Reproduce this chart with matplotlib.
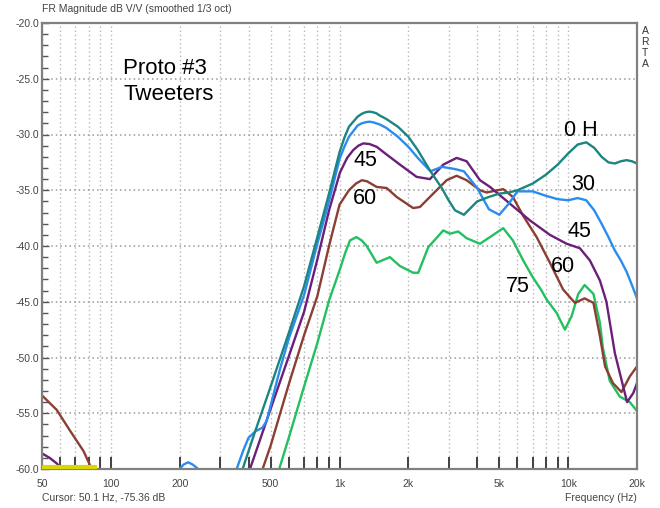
import matplotlib
matplotlib.use('Agg')
import matplotlib.pyplot as plt
from matplotlib.ticker import FixedLocator, NullFormatter, FixedFormatter

plt.rcParams['font.family'] = ['Liberation Sans', 'DejaVu Sans']

# ---------------- data ----------------
f_0h = [377, 420, 500, 600, 700, 800, 900, 1000, 1050, 1100, 1200, 1250, 1300, 1350, 1400,
        1450, 1500, 1600, 1800, 2000, 2200, 2500, 2800, 3000, 3200, 3500, 4000, 4500, 5000,
        5500, 6000, 7000, 8000, 9000, 10000, 11000, 12000, 13000, 14000, 15000, 16000,
        17000, 18000, 19000, 20000]
db_0h = [-60, -57.1, -52.6, -47.8, -43.6, -39.2, -35.3, -31.6, -30.3, -29.3, -28.4, -28.15,
         -28.0, -27.95, -28.0, -28.1, -28.3, -28.6, -29.3, -30.2, -31.4, -33.3, -34.8, -35.9,
         -36.8, -37.2, -36.0, -35.6, -35.3, -35.2, -35.0, -34.4, -33.6, -32.7, -31.7, -30.9,
         -30.7, -31.2, -32.0, -32.5, -32.6, -32.4, -32.3, -32.4, -32.6]

f_30 = [355, 380, 400, 430, 460, 480, 500, 550, 600, 700, 800, 900, 1000, 1050, 1100, 1200,
        1250, 1300, 1350, 1400, 1500, 1600, 1800, 2000, 2200, 2500, 2800, 3000, 3200, 3500,
        4000, 4500, 5000, 5500, 6000, 7000, 8000, 9000, 10000, 11000, 12000, 13000, 14000,
        15000, 16000, 17000, 18000, 19000, 20000]
db_30 = [-60, -58.3, -57.2, -56.6, -56.3, -55.7, -54.3, -51.0, -48.3, -44.4, -39.8, -36.0,
         -32.2, -31.1, -30.2, -29.2, -29.0, -28.9, -28.85, -28.9, -29.1, -29.4, -30.2, -31.1,
         -32.1, -33.3, -32.9, -33.0, -33.1, -33.3, -34.8, -36.7, -37.2, -36.2, -35.1, -35.1,
         -35.5, -35.8, -35.9, -35.7, -35.9, -36.8, -38.0, -39.2, -40.4, -41.3, -42.3, -43.5,
         -44.7]
f_30_low = [200, 208, 218, 228, 241]
db_30_low = [-60, -59.6, -59.4, -59.6, -60]

f_45 = [406, 500, 600, 700, 800, 900, 1005, 1080, 1148, 1210, 1271, 1350, 1453, 1608, 1838,
        2174, 2486, 2844, 3253, 3597, 4115, 4550, 5560, 6800, 8320, 9850, 11250, 12450,
        13770, 14700, 16000, 17400, 18100, 19250, 20000]
db_45 = [-60, -54.6, -49.9, -45.9, -41.2, -36.8, -33.4, -32.1, -31.4, -31.0, -30.8, -30.85,
         -31.1, -31.8, -32.7, -33.8, -34.0, -32.7, -32.1, -32.4, -34.1, -34.7, -36.2, -37.7,
         -39.0, -39.8, -40.2, -41.3, -43.1, -45.0, -49.6, -52.6, -54.0, -53.2, -52.3]
f_45_low = [50, 54, 58, 61]
db_45_low = [-58.6, -59.0, -59.5, -60]

f_60 = [461, 500, 600, 700, 800, 900, 1000, 1100, 1180, 1253, 1320, 1453, 1608, 1778, 2101,
        2248, 2570, 2942, 3253, 3597, 4115, 4400, 5200, 5730, 6360, 7280, 8320, 9500, 10700,
        11800, 12900, 13770, 14500, 15700, 17100, 18600, 20000]
db_60 = [-60, -57.9, -52.4, -48.0, -44.5, -40.0, -36.3, -35.0, -34.4, -34.1, -34.2, -34.7,
         -34.8, -35.6, -36.6, -36.5, -35.3, -34.1, -33.7, -34.1, -35.0, -35.2, -34.9, -35.6,
         -37.3, -39.2, -41.5, -43.9, -45.1, -44.7, -45.1, -48.1, -50.8, -52.3, -53.1, -51.7,
         -50.8]
f_60_low = [50, 58, 66, 76, 82.5]
db_60_low = [-53.4, -54.7, -56.5, -58.4, -60]

f_75 = [545, 600, 700, 800, 903, 1000, 1060, 1111, 1186, 1250, 1315, 1453, 1662, 1838, 2101,
        2210, 2445, 2844, 3040, 3306, 3597, 4115, 4550, 5200, 5730, 6360, 7000, 7600, 8050,
        8900, 9680, 10350, 11070, 11800, 12900, 13770, 14200, 15200, 16800, 18600, 20000]
db_75 = [-60, -57.2, -52.6, -48.7, -44.8, -42.2, -40.6, -39.5, -39.2, -39.5, -40.0, -41.5,
         -41.0, -41.8, -42.4, -42.4, -40.1, -38.6, -38.9, -38.7, -39.3, -39.8, -39.2, -38.4,
         -39.5, -41.3, -42.8, -43.9, -44.8, -46.0, -47.5, -46.3, -44.3, -43.5, -44.3, -46.9,
         -49.2, -52.1, -53.5, -54.0, -54.8]

f_floor = [50, 87]
db_floor = [-59.85, -59.85]

x_major = [50, 100, 200, 500, 1000, 2000, 5000, 10000, 20000]
x_major_labels = ['50', '100', '200', '500', '1k', '2k', '5k', '10k', '20k']
x_minor = [60, 70, 80, 90, 300, 400, 600, 700, 800, 900, 3000, 4000, 6000, 7000, 8000, 9000]
y_major = [-60, -55, -50, -45, -40, -35, -30, -25, -20]
y_minor = list(range(-60, -19))

curve_labels = ['0 H', '30', '45', '60', '75', '45', '60']

# ---------------- figure ----------------
W, H = 660, 508
fig = plt.figure(figsize=(W / 100, H / 100), dpi=100)
ax = fig.add_axes([42 / W, 39 / H, 595 / W, 446 / H])
ax.set_xscale('log')
ax.set_xlim(50, 20000)
ax.set_ylim(-60, -20)

ax.xaxis.set_major_locator(FixedLocator(x_major))
ax.xaxis.set_major_formatter(FixedFormatter(x_major_labels))
ax.xaxis.set_minor_locator(FixedLocator(x_minor))
ax.xaxis.set_minor_formatter(NullFormatter())
ax.yaxis.set_major_locator(FixedLocator(y_major))
ax.yaxis.set_major_formatter(FixedFormatter(['%.1f' % v for v in y_major]))
ax.yaxis.set_minor_locator(FixedLocator(y_minor))

ax.tick_params(axis='x', which='both', direction='in', length=9, width=1.3,
               color='#333333', labelsize=7.5, labelcolor='#444444', pad=7)
ax.tick_params(axis='y', which='major', direction='in', length=5, width=1.0,
               color='#555555', labelsize=7.5, labelcolor='#444444', pad=2)
ax.tick_params(axis='y', which='minor', direction='in', length=4, width=1.0, color='#555555')

ax.grid(which='both', axis='x', color='#b8b8b8', linestyle=(0, (1, 2)), lw=1.0)
ax.grid(which='major', axis='y', color='#999999', linestyle=(0, (1, 2)), lw=1.1)
ax.set_axisbelow(True)

for s in ax.spines.values():
    s.set_color('#808080')
    s.set_linewidth(1.6)

style = dict(lw=1.7, solid_joinstyle='round', solid_capstyle='round')
ax.plot(f_60_low, db_60_low, color='#8b3e33', **style)
ax.plot(f_45_low, db_45_low, color='#6b1f78', **style)
ax.plot(f_30_low, db_30_low, color='#2b8cf0', **style)
ax.plot(f_75, db_75, color='#22c060', **style)
ax.plot(f_60, db_60, color='#8b3e33', **style)
ax.plot(f_45, db_45, color='#6b1f78', **style)
ax.plot(f_30, db_30, color='#2b8cf0', **style)
ax.plot(f_0h, db_0h, color='#1c8580', **style)
ax.plot(f_floor, db_floor, color='#d8d800', lw=3, clip_on=False, zorder=5,
        solid_capstyle='butt')


def P(x, y):
    return x / W, 1 - y / H


fig.text(*P(123, 68), 'Proto #3', fontsize=16, ha='left', va='center')
fig.text(*P(123, 95), 'Tweeters', fontsize=16, ha='left', va='center')
label_pos = [(581, 131), (583, 185), (579, 231), (563, 266), (518, 286), (365, 161), (365, 199)]
for t, (x, y) in zip(curve_labels, label_pos):
    fig.text(*P(x, y), t, fontsize=15.5, ha='center', va='center')

small = dict(fontsize=7.5, color='#444444', va='center')
fig.text(*P(42, 9), 'FR Magnitude dB V/V (smoothed 1/3 oct)', ha='left', **small)
fig.text(*P(42, 498), 'Cursor: 50.1 Hz, -75.36 dB', ha='left', **small)
fig.text(*P(637, 498), 'Frequency (Hz)', ha='right', **small)
for ch, y in zip('ARTA', [31, 42, 53, 64]):
    fig.text(*P(645, y), ch, ha='center', fontsize=7.5, color='#333333', va='center')

fig.savefig('out.png', dpi=100)
